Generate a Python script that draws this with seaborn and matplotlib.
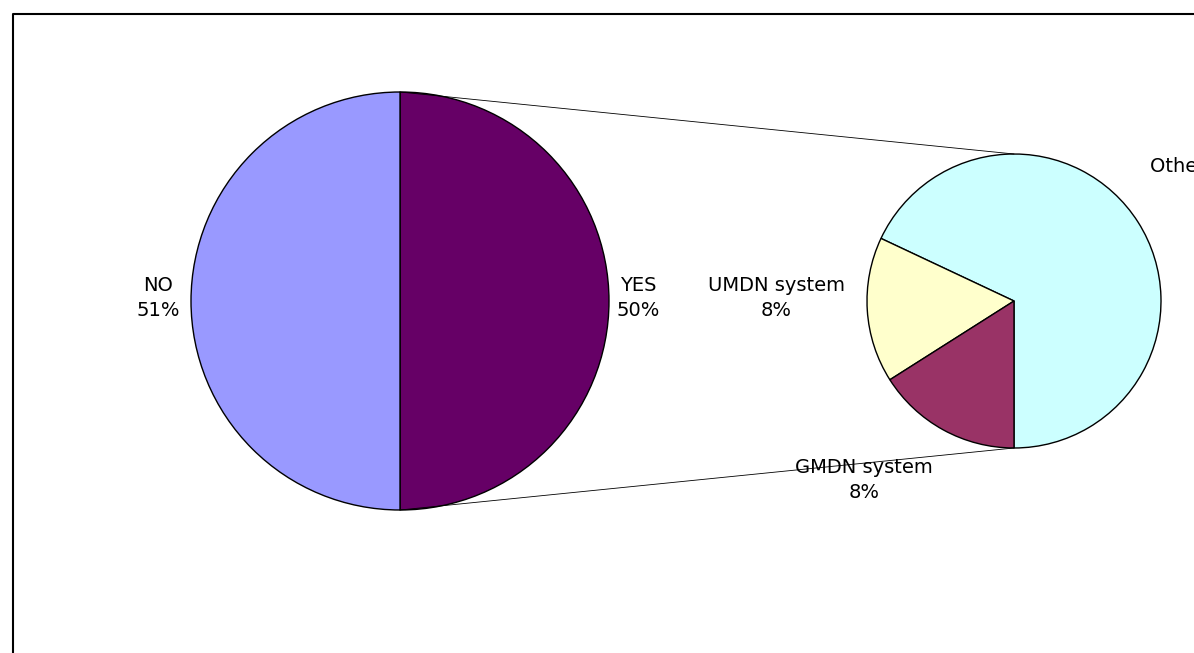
import numpy as np
import matplotlib
matplotlib.use("Agg")
import matplotlib.pyplot as plt
import seaborn as sns

# main pie
main_labels = ["YES", "NO"]
main_values = [50, 50]
main_pct_text = ["50%", "51%"]
main_colors = ["#660066", "#9999FF"]

# breakdown of YES
sub_labels = ["Other", "UMDN system", "GMDN system"]
sub_values = [34, 8, 8]
sub_pct_text = ["34%", "8%", "8%"]
sub_colors = ["#CCFFFF", "#FFFFCC", "#993366"]

W, H = 1194, 653
sns.set_theme(style="white")
plt.rcParams["font.family"] = ["DejaVu Sans"]
plt.rcParams["text.color"] = "black"

fig = plt.figure(figsize=(W / 100, H / 100), dpi=100)
ax = fig.add_axes([0, 0, 1, 1])

c1, r1 = (400, H - 301), 209
c2, r2 = (1014, H - 301), 147

wedge_kw = dict(edgecolor="black", linewidth=1.0)
ax.pie(main_values, colors=main_colors, startangle=-90, counterclock=True,
       center=c1, radius=r1, wedgeprops=wedge_kw, frame=True)
ax.pie(sub_values, colors=sub_colors, startangle=-90, counterclock=True,
       center=c2, radius=r2, wedgeprops=wedge_kw, frame=True)
ax.set_xlim(0, W)
ax.set_ylim(0, H)
ax.set_aspect("equal")
ax.axis("off")

# connector lines from top/bottom of main pie to sub pie
ax.plot([c1[0], c2[0]], [c1[1] + r1, c2[1] + r2], color="black", lw=0.6)
ax.plot([c1[0], c2[0]], [c1[1] - r1, c2[1] - r2], color="black", lw=0.6)

fs = 14
kw = dict(fontsize=fs, linespacing=1.45, color="black")
ax.text(158, H - 298, f"{main_labels[1]}\n{main_pct_text[1]}", ha="center", va="center", **kw)
ax.text(638, H - 298, f"{main_labels[0]}\n{main_pct_text[0]}", ha="center", va="center", **kw)
# label runs past the right edge, as in the original
ax.text(1150, H - 166, f"{sub_labels[0]} {sub_pct_text[0]}", ha="left", va="center", **kw)
ax.text(776, H - 298, f"{sub_labels[1]}\n{sub_pct_text[1]}", ha="center", va="center", **kw)
ax.text(864, H - 480, f"{sub_labels[2]}\n{sub_pct_text[2]}", ha="center", va="center", **kw)

# chart area border (cut off at right and bottom)
ax.plot([13, 13, W + 5], [-5, H - 14, H - 14], color="black", lw=1.5, clip_on=False)

fig.savefig("out.png", dpi=100)
